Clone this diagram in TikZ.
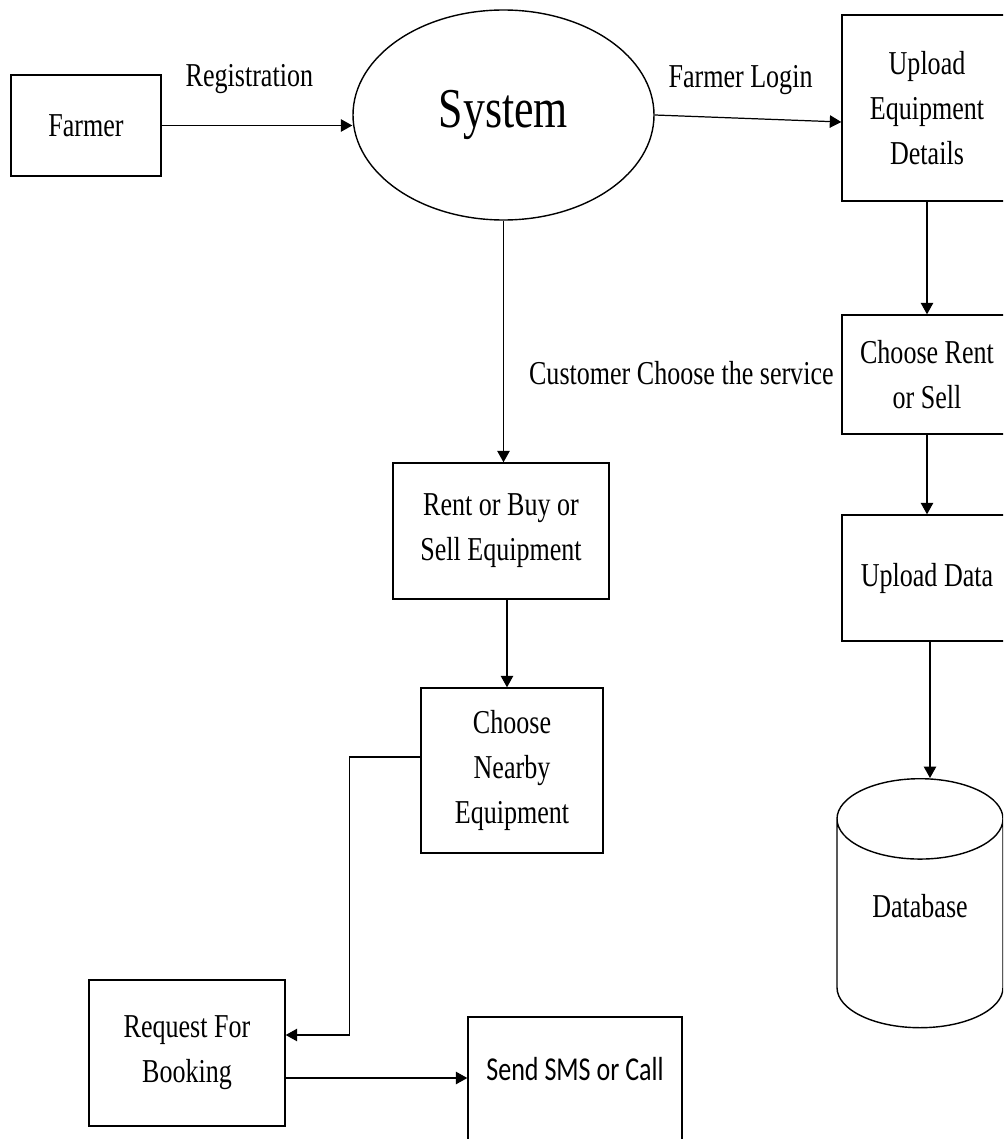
\documentclass[tikz,border=0pt]{standalone}
\usepackage{fontspec}
\setmainfont{Liberation Serif}[FakeStretch=0.78]
\newfontfamily\smsfont{Carlito}[FakeStretch=0.78]
\usetikzlibrary{shapes.geometric,arrows.meta}

\begin{document}
\begin{tikzpicture}[>={Triangle[length=0.23cm,width=0.25cm]}, line width=0.8pt]
\tikzstyle{block} = [draw, rectangle, align=center, font=\fontsize{19}{25.5}\selectfont]
\tikzstyle{flow} = [draw, ->, line width=0.7pt]
\tikzstyle{lbl} = [font=\fontsize{19}{25.5}\selectfont, inner sep=0pt]

\clip (0,0) rectangle (20.06,-22.78);
\fill [white] (0,0) rectangle (20.06,-22.78);

% Nodes, top row
\node [block, minimum width=3.0cm, minimum height=2.02cm] (farmer) at (1.72,-2.51) {Farmer};
\node [draw, ellipse, inner sep=0pt, minimum width=6.02cm, minimum height=4.2cm, font=\fontsize{32}{36}\selectfont] (sys) at (10.07,-2.30) {System};
\node [block, minimum width=3.4cm, minimum height=3.72cm] (upload) at (18.54,-2.16) {Upload\\Equipment\\Details};

% Right column
\node [block, below of=upload, node distance=5.33cm, minimum width=3.4cm, minimum height=2.38cm] (rentsell) {Choose Rent\\or Sell};
\node [block, below of=rentsell, node distance=4.07cm, minimum width=3.4cm, minimum height=2.52cm] (updata) {Upload Data};
\node [draw, cylinder, shape border rotate=90, aspect=0.75, anchor=north, minimum width=3.32cm, minimum height=4.98cm, text height=0.47cm, text depth=1.0cm, font=\fontsize{19}{25.5}\selectfont] (db) at (18.40,-15.56) {Database};

% Middle and bottom
\node [block, below of=sys, node distance=8.32cm, xshift=-0.05cm, minimum width=4.32cm, minimum height=2.72cm] (rent) {Rent or Buy or\\Sell Equipment};
\node [block, below of=rent, node distance=4.79cm, xshift=0.22cm, minimum width=3.64cm, minimum height=3.3cm] (nearby) {Choose\\Nearby\\Equipment};
\node [block, minimum width=3.92cm, minimum height=2.92cm] (request) at (3.74,-21.06) {Request For\\Booking};
\node [block, right of=request, node distance=7.76cm, yshift=-0.78cm, minimum width=4.28cm, minimum height=3.0cm, text height=0.3cm, text depth=0.78cm, font=\smsfont\fontsize{19}{25.5}\selectfont] (sms) {Send SMS or Call};

\node [lbl, anchor=east] (service) at ([xshift=-0.14cm, yshift=0.03cm]rentsell.west) {Customer Choose the service};

% Connectors
\draw [flow] (farmer.east) -- node[lbl, pos=0.46, yshift=0.92cm]{Registration} (farmer.east -| sys.west);
\draw [flow] (sys.east) -- node[lbl, pos=0.46, yshift=0.76cm]{Farmer Login} ([yshift=-0.28cm]upload.west);
\draw [flow] (sys.south) -- (sys.south |- rent.north);
\draw [flow] (upload) -- (rentsell);
\draw [flow] (rentsell) -- (updata);
\draw [flow] ([xshift=0.06cm]updata.south) -- ([xshift=0.06cm]updata.south |- db.north);
\draw [flow] ([xshift=0.12cm]rent.south) -- ([xshift=0.12cm]rent.south |- nearby.north);
\draw [flow] ([yshift=0.27cm]nearby.west) -- ++(-1.42,0) |- ([yshift=0.36cm]request.east);
\draw [flow] ([yshift=-0.5cm]request.east) -- ([yshift=-0.5cm]request.east -| sms.west);

\end{tikzpicture}
\end{document}
